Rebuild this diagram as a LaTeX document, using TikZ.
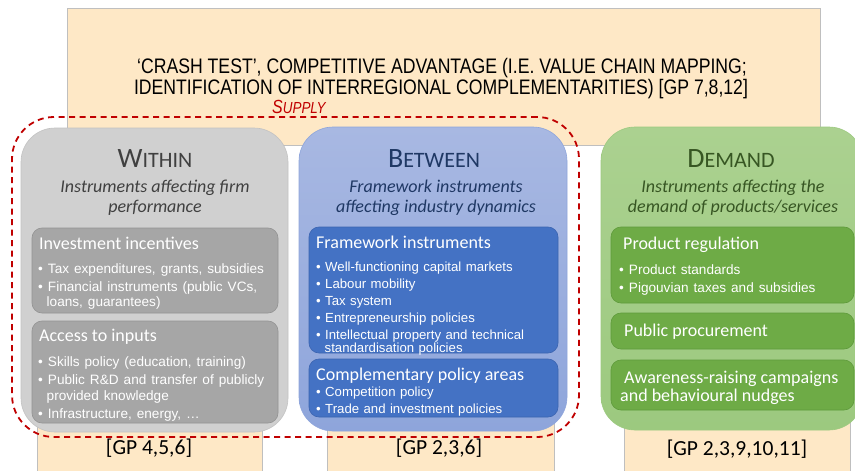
\documentclass[tikz,border=0pt]{standalone}
\usepackage{fontspec}
\setmainfont{Carlito}
\newfontfamily\arialf{Liberation Sans}
\newfontfamily\condf[FakeStretch=0.84]{Liberation Sans}
\newcommand\bulfont{\arialf\fontsize{13.6}{13.6}\selectfont\setlength{\spaceskip}{5pt plus 1pt}}
\newcommand\bulbfont{\arialf\fontsize{13.2}{13.2}\selectfont\setlength{\spaceskip}{4.4pt plus 1pt}}
\definecolor{beige}{HTML}{FEE8C6}
\definecolor{beigeln}{HTML}{BFBFBF}
\definecolor{grayp}{HTML}{D0D0D0}
\definecolor{graypb}{HTML}{C2C2C2}
\definecolor{grayin}{HTML}{A6A6A6}
\definecolor{grayinb}{HTML}{939393}
\definecolor{bluept}{HTML}{A8B8E2}
\definecolor{bluepb}{HTML}{8EA5DB}
\definecolor{bluein}{HTML}{4472C4}
\definecolor{blueinb}{HTML}{3B64B0}
\definecolor{greenpt}{HTML}{ABD190}
\definecolor{greenpb}{HTML}{9CC97F}
\definecolor{greenin}{HTML}{6EAB46}
\definecolor{greeninb}{HTML}{5E9A3B}
\definecolor{redd}{HTML}{C00000}
\definecolor{tgray}{HTML}{404040}
\definecolor{tblue}{HTML}{1F3864}
\definecolor{tgreen}{HTML}{375623}
\tikzset{
  beigebox/.style={fill=beige, draw=beigeln, line width=0.8pt},
  panel/.style={rounded corners=34pt, line width=0.6pt, anchor=north west, inner sep=0pt, outer sep=0pt},
  graypanel/.style={panel, fill=grayp, draw=graypb},
  bluepanel/.style={panel, top color=bluept, bottom color=bluepb, draw=bluepb},
  greenpanel/.style={panel, top color=greenpt, bottom color=greenpb, draw=greenpb},
  inbox/.style={rounded corners=10pt, anchor=north west, inner sep=0pt, outer sep=0pt, line width=0.6pt},
  grayinner/.style={inbox, fill=grayin, draw=grayinb},
  blueinner/.style={inbox, fill=bluein, draw=blueinb},
  greeninner/.style={inbox, fill=greenin, draw=greeninb},
  htext/.style={anchor=base, inner sep=0pt, font=\condf\fontsize{21}{21}\selectfont},
  supplytext/.style={anchor=base west, inner sep=0pt, text=redd, font=\condf\itshape},
  supplyline/.style={draw=redd, line width=1.8pt, dash pattern=on 6pt off 4.5pt, rounded corners=42pt, anchor=north west, inner sep=0pt, outer sep=0pt},
  ptitle/.style={anchor=base, inner sep=0pt},
  subt/.style={anchor=base, inner sep=0pt, font=\fontsize{18}{18}\selectfont\itshape},
  ititle/.style={anchor=base west, inner sep=0pt, text=white, font=\fontsize{18}{18}\selectfont},
  bul/.style={anchor=base west, inner sep=0pt, text=white, font=\bulfont},
  bulb/.style={anchor=base west, inner sep=0pt, text=white, font=\bulbfont},
  gp/.style={anchor=base, inner sep=0pt, font=\fontsize{21.5}{21.5}\selectfont},
}
\begin{document}
\begin{tikzpicture}[x=1pt,y=-1pt]
\useasboundingbox (0,0) rectangle (855,471);
% beige background
\fill[white] (0,0) rectangle (855,471);
\draw[beigebox] (37,140) rectangle (262,480);
\draw[beigebox] (327,140) rectangle (554,480);
\draw[beigebox] (624,140) rectangle (850,480);
\draw[beigebox] (67,8) rectangle (820,145);
\node[htext] (h1) at (442,73) {‘CRASH TEST’, COMPETITIVE ADVANTAGE (I.E. VALUE CHAIN MAPPING;};
\node[htext] (h2) at (441,94) {IDENTIFICATION OF INTERREGIONAL COMPLEMENTARITIES) [GP 7,8,12]};
\node[supplytext] (sup) at (272,113) {{\fontsize{19}{19}\selectfont S}{\fontsize{16}{16}\selectfont UPPLY}};

% panels
\node[graypanel, minimum width=267pt, minimum height=304pt] (within) at (21,128) {};
\node[bluepanel, minimum width=268pt, minimum height=304pt] (between) at (299,127) {};
\node[greenpanel, minimum width=262pt, minimum height=303pt] (demand) at (601,127) {};

% WITHIN
\node[ptitle, text=tgray] (wt) at (155,167) {{\fontsize{28}{28}\selectfont W}{\fontsize{22}{22}\selectfont ITHIN}};
\node[subt, text=tgray] (ws1) at (155,192) {Instruments affecting firm};
\node[subt, text=tgray] (ws2) at (155,212) {performance};
\node[grayinner, minimum width=246pt, minimum height=85pt] (wb1) at (32,228) {};
\node[ititle] (wb1t) at (39,249) {Investment incentives};
\node[bul] (wb1a) at (38,273) {• Tax expenditures, grants, subsidies};
\node[bul] (wb1b) at (38,291) {• Financial instruments (public VCs,};
\node[bul] (wb1c) at (46.5,306) {loans, guarantees)};
\node[grayinner, minimum width=246pt, minimum height=102pt] (wb2) at (32,321) {};
\node[ititle] (wb2t) at (39,341) {Access to inputs};
\node[bul] (wb2a) at (38,366) {• Skills policy (education, training)};
\node[bul] (wb2b) at (38,384) {• Public R\&D and transfer of publicly};
\node[bul] (wb2c) at (46.5,400) {provided knowledge};
\node[bul] (wb2d) at (38,418) {• Infrastructure, energy, …};
\node[gp] (gp1) at (149,454) {[GP 4,5,6]};

% BETWEEN
\node[ptitle, text=tblue] (bt) at (434,167) {{\fontsize{28}{28}\selectfont B}{\fontsize{22}{22}\selectfont ETWEEN}};
\node[subt, text=tblue] (bs1) at (436,192) {Framework instruments};
\node[subt, text=tblue] (bs2) at (436,212) {affecting industry dynamics};
\node[blueinner, minimum width=249pt, minimum height=126pt] (bb1) at (309,227) {};
\node[ititle] (bb1t) at (316,248) {Framework instruments};
\node[bulb] (bb1a) at (316,271) {• Well-functioning capital markets};
\node[bulb] (bb1b) at (316,288) {• Labour mobility};
\node[bulb] (bb1c) at (316,305) {• Tax system};
\node[bulb] (bb1d) at (316,322) {• Entrepreneurship policies};
\node[bulb] (bb1e) at (316,339) {• Intellectual property and technical};
\node[bulb] (bb1f) at (324.5,352.5) {standardisation policies};
\node[blueinner, minimum width=249pt, minimum height=58pt] (bb2) at (309,359) {};
\node[ititle] (bb2t) at (316,380) {Complementary policy areas};
\node[bulb] (bb2a) at (316,396) {• Competition policy};
\node[bulb] (bb2b) at (316,413) {• Trade and investment policies};
\node[gp] (gp2) at (439,454) {[GP 2,3,6]};

% DEMAND
\node[ptitle, text=tgreen] (dt) at (731,167) {{\fontsize{28}{28}\selectfont D}{\fontsize{22}{22}\selectfont EMAND}};
\node[subt, text=tgreen] (ds1) at (733,192) {Instruments affecting the};
\node[subt, text=tgreen] (ds2) at (733,212) {demand of products/services};
\node[greeninner, minimum width=243pt, minimum height=76pt] (db1) at (611,227) {};
\node[ititle] (db1t) at (623,249) {Product regulation};
\node[bul] (db1a) at (619,274) {• Product standards};
\node[bul] (db1b) at (619,292) {• Pigouvian taxes and subsidies};
\node[greeninner, minimum width=243pt, minimum height=36pt] (db2) at (611,313) {};
\node[ititle] (db2t) at (624,336) {Public procurement};
\node[greeninner, minimum width=243pt, minimum height=50pt] (db3) at (611,360) {};
\node[ititle] (db3t) at (624,383) {Awareness-raising campaigns};
\node[ititle] (db3u) at (620,401) {and behavioural nudges};
\node[gp] (gp3) at (737,455) {[GP 2,3,9,10,11]};

% supply dashed frame
\node[supplyline, minimum width=567pt, minimum height=320pt] (supframe) at (12,117) {};
\end{tikzpicture}
\end{document}
